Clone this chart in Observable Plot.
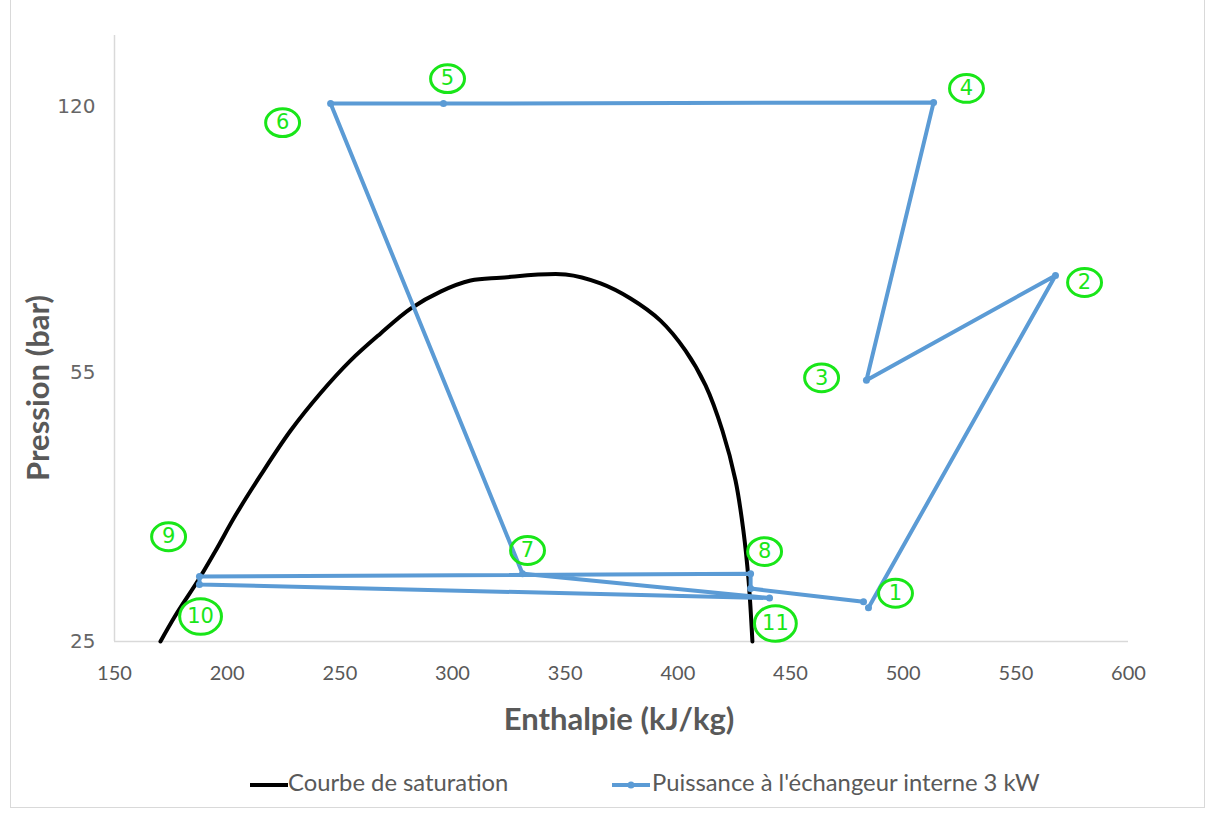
<!DOCTYPE html>
<html>
<head>
<meta charset="utf-8">
<script src="https://cdn.jsdelivr.net/npm/d3@7"></script>
<script src="https://cdn.jsdelivr.net/npm/@observablehq/plot@0.6"></script>
<style>
  html, body { margin: 0; padding: 0; background: #fff; }
  #wrap { position: relative; width: 1214px; height: 816px; overflow: hidden; }
  #frame { position: absolute; left: 10px; top: -2px; width: 1195px; height: 810px; border: 1px solid #d9d9d9; box-sizing: border-box; }
  #chart { position: absolute; left: 0; top: 0; }
  .leg { position: absolute; top: 768px; font-family: Lato, "Liberation Sans", sans-serif; font-size: 23.8px; color: #595959; white-space: nowrap; line-height: 28px; }
  .leg svg { vertical-align: middle; }
  .ttl { position: absolute; font-family: Lato, "Liberation Sans", sans-serif; font-weight: bold; font-size: 31px; color: #595959; white-space: nowrap; line-height: 36px; }
  #ytitle { left: 37px; top: 388px; transform: translate(-50%, -50%) rotate(-90deg); }
  #xtitle { left: 619px; top: 718px; transform: translate(-50%, -50%); }
  #chart g[aria-label="y-axis tick label"], #chart g[aria-label="y-axis tick label"] text { font-family: "DejaVu Sans", sans-serif !important; }
</style>
</head>
<body>
<div id="wrap">
  <div id="frame"></div>
  <div id="chart"></div>
  <div class="ttl" id="ytitle">Pression (bar)</div>
  <div class="ttl" id="xtitle">Enthalpie (kJ/kg)</div>
  <div class="leg" style="left:248px"><svg width="40" height="12"><line x1="2" y1="6" x2="40" y2="6" stroke="#000" stroke-width="4"/></svg>Courbe de saturation</div>
  <div class="leg" style="left:610px"><svg width="42" height="12"><line x1="2" y1="6" x2="40" y2="6" stroke="#5b9bd5" stroke-width="4"/><circle cx="21" cy="6" r="3.5" fill="#5b9bd5"/></svg>Puissance à l'échangeur interne 3 kW</div>
</div>
<script>
// ---- Data ----
const xTicks = [150, 200, 250, 300, 350, 400, 450, 500, 550, 600];
const yTicks = [25, 55, 120];

// Saturation curve (enthalpy kJ/kg, pressure bar)
const satH = [170.4, 177.1, 187.7, 194.8, 203.7, 214.8, 228.1, 241.4, 254.7, 268.0, 281.4, 294.7, 308.0, 321.3, 350.2, 365.7, 379.0, 392.3, 403.4, 412.3, 419.8, 425.6, 429.1, 431.4, 433.1];
const satP = [25.0, 27.0, 30.1, 32.6, 36.2, 40.7, 46.4, 51.8, 57.0, 61.7, 66.4, 69.8, 72.1, 72.7, 73.4, 71.5, 68.4, 64.1, 58.7, 53.0, 46.4, 40.1, 34.6, 29.9, 25.0];

// Cycle: "Puissance à l'échangeur interne 3 kW"
const cycH = [484.6, 567.6, 483.7, 513.5, 296.0, 245.9, 331.1, 440.7, 187.7, 187.7, 432.3, 432.3, 482.4];
const cycP = [27.6, 73.2, 53.8, 121.6, 121.2, 121.2, 30.5, 28.4, 29.55, 30.25, 30.5, 29.2, 28.1];

// State point annotations
const labN = ["1", "2", "3", "4", "5", "6", "7", "8", "9", "10", "11"];
const labH = [496.6, 580.5, 463.8, 528.1, 297.8, 224.6, 333.3, 438.5, 174.0, 188.2, 443.3];
const labP = [28.8, 71.7, 54.2, 126.7, 130.4, 114.6, 32.65, 32.55, 34.0, 26.9, 26.36];

const sat = satH.map((h, i) => ({h, p: satP[i]}));
const cycle = cycH.map((h, i) => ({h, p: cycP[i]}));
const labels = labN.map((n, i) => ({n, h: labH[i], p: labP[i], big: n.length > 1}));

// ellipse symbol for the circled numbers
function ellipseSymbol(ax, ay) {
  return {
    draw(ctx, size) {
      const r = Math.sqrt(size / Math.PI);
      const rx = r * ax, ry = r * ay, k = 0.5523;
      ctx.moveTo(rx, 0);
      ctx.bezierCurveTo(rx, ry * k, rx * k, ry, 0, ry);
      ctx.bezierCurveTo(-rx * k, ry, -rx, ry * k, -rx, 0);
      ctx.bezierCurveTo(-rx, -ry * k, -rx * k, -ry, 0, -ry);
      ctx.bezierCurveTo(rx * k, -ry, rx, -ry * k, rx, 0);
      ctx.closePath();
    }
  };
}

const green = "#19e619";
const grey = "#595959";
const tickFont = 'Lato, "Liberation Sans", sans-serif';

const chart = Plot.plot({
  width: 1214,
  height: 740,
  marginLeft: 114,
  marginRight: 86,
  marginTop: 35,
  marginBottom: 99,
  style: {background: "transparent", overflow: "visible"},
  x: {domain: [150, 600], ticks: xTicks, label: null},
  y: {type: "log", domain: [25, 148], ticks: yTicks, label: null},
  marks: [
    Plot.ruleX([150], {stroke: "#d9d9d9", strokeWidth: 1.5}),
    Plot.ruleY([25], {stroke: "#d9d9d9", strokeWidth: 1.5}),
    Plot.axisX(xTicks, {tickSize: 0, tickPadding: 24, fontSize: 20, fontFamily: tickFont, fill: grey, label: null}),
    Plot.axisY(yTicks, {tickSize: 0, tickPadding: 19, fontSize: 20, fontFamily: "DejaVu Sans", fill: "#666", tickFormat: d => String(d), label: null}),
    Plot.line(sat, {x: "h", y: "p", stroke: "#000", strokeWidth: 4, curve: "catmull-rom"}),
    Plot.line(cycle, {x: "h", y: "p", stroke: "#5b9bd5", strokeWidth: 4, strokeLinejoin: "round"}),
    Plot.dot(cycle, {x: "h", y: "p", r: 3.5, fill: "#5b9bd5"}),
    Plot.dot(labels.filter(d => !d.big), {x: "h", y: "p", r: 14.5, symbol: ellipseSymbol(1.17, 0.96), stroke: green, strokeWidth: 3, fill: "none"}),
    Plot.dot(labels.filter(d => d.big), {x: "h", y: "p", r: 18.5, symbol: ellipseSymbol(1.13, 0.96), stroke: green, strokeWidth: 3, fill: "none"}),
    Plot.text(labels, {x: "h", y: "p", text: "n", fill: green, fontSize: 21, fontFamily: "DejaVu Sans"})
  ]
});
document.getElementById("chart").appendChild(chart);
</script>
</body>
</html>
